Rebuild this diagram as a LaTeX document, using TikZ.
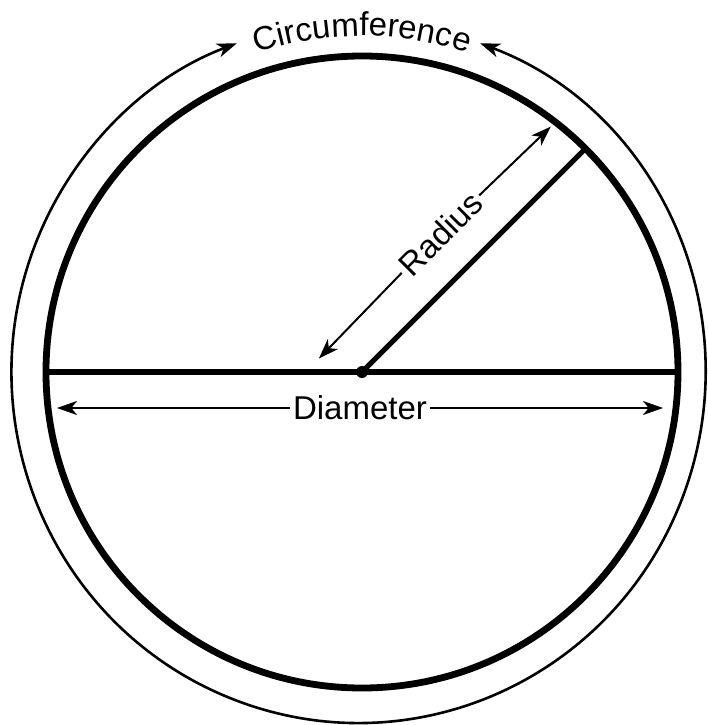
\documentclass[tikz,border=0pt]{standalone}
\usepackage{fontspec}
\setmainfont{Liberation Sans}
\usetikzlibrary{arrows.meta,calc,decorations.text}

\begin{document}
\begin{tikzpicture}[
  x=0.5pt,y=0.5pt,
  font=\fontsize{16.5}{19}\selectfont,
  >={Stealth[length=10pt,width=7pt,inset=2.8pt]},
  innerrim/.style={line width=3.4pt},
  outerarc/.style={line width=1.3pt,<->},
  diamline/.style={line width=3pt},
  radline/.style={line width=2.6pt},
  dimarrow/.style={line width=1pt,->},
  lbl/.style={inner sep=1.5pt}
]
\useasboundingbox (-362,-353) rectangle (346,372);

% centre and points on the rim
\coordinate (O) at (0,0);
\coordinate (dw) at (180:316);
\coordinate (de) at (0:316);
\coordinate (r45) at (45:316);

% --- circles ---
\draw[innerrim] (O) circle[radius=316];
\draw[outerarc] ($(O)+(-3.5,0)+(69.5:347 and 351)$)
  arc[start angle=69.5,end angle=-249.5,x radius=347,y radius=351];

% --- diameter and radius ---
\draw[diamline] (dw) -- (de);
\draw[radline] (O) -- (r45);
\fill (O) circle[radius=6];

% --- radius label ---
\coordinate (rin) at ($(O)+(225:21)+(135:40)$);
\coordinate (rout) at ($(O)+(45:307)+(135:40)$);
\node[lbl,rotate=45] (rad) at ($(O)+(45:153)+(135:42)$) {Radius};
\draw[dimarrow] (rad.west) -- (rin);
\draw[dimarrow] (rad.east) -- (rout);

% --- diameter label ---
\coordinate (dl) at (-305,-36);
\coordinate (dr) at (301,-36);
\node[lbl] (diam) at (-2,-36) {Diameter};
\draw[dimarrow] (diam.west) -- (dl);
\draw[dimarrow] (diam.east) -- (dr);

% --- circumference label ---
\path[decorate,decoration={text along path,text align=center,
    text={|\fontsize{16.5}{19}\selectfont|Circumference}}]
  ($(O)+(160:336)$) arc[start angle=160,end angle=20,radius=336];
\end{tikzpicture}
\end{document}
